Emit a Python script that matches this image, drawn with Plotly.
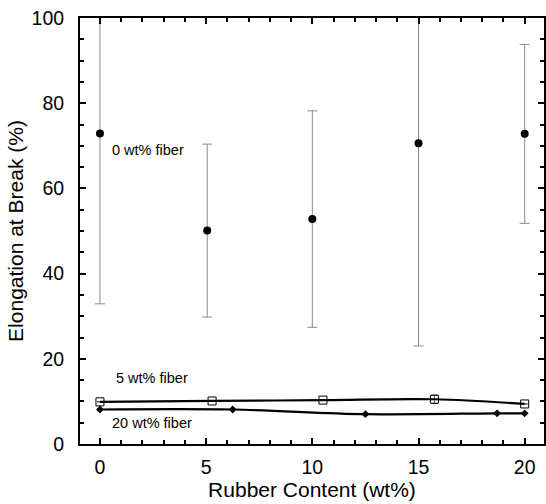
import plotly.graph_objects as go

# 0 wt% fiber
x0 = [0, 5.05, 10.0, 15.0, 20.0]
y0 = [72.9, 50.1, 52.8, 70.6, 72.8]
e0 = [40.0, 20.3, 25.4, 47.6, 21.0]

# 5 wt% fiber
x5 = [0, 5.28, 10.5, 15.75, 20.0]
y5 = [9.9, 10.1, 10.3, 10.5, 9.4]
e5 = [0, 0, 0, 1.0, 0]

# 20 wt% fiber
x20 = [0, 6.25, 12.5, 18.7, 20.0]
y20 = [8.1, 8.1, 7.0, 7.2, 7.2]

labels = ["0 wt% fiber", "5 wt% fiber", "20 wt% fiber"]
label_x = [2.25, 2.45, 2.45]
label_y = [69, 15.5, 4.9]

FONT = "Liberation Sans, Arial, sans-serif"

fig = go.Figure()
fig.add_trace(go.Scatter(
    x=x0, y=y0, mode="markers",
    marker=dict(symbol="circle", size=8, color="black"),
    error_y=dict(type="data", array=e0, visible=True, color="#8a8a8a", thickness=1, width=5),
    showlegend=False))
fig.add_trace(go.Scatter(
    x=x5, y=y5, mode="lines+markers",
    line=dict(color="black", width=2.2, shape="spline", smoothing=1),
    marker=dict(symbol="square-open", size=8, color="black", line=dict(width=1)),
    error_y=dict(type="data", array=e5, visible=True, color="#555555", thickness=1, width=3),
    showlegend=False))
fig.add_trace(go.Scatter(
    x=x20, y=y20, mode="lines+markers",
    line=dict(color="black", width=2.2, shape="spline", smoothing=1),
    marker=dict(symbol="diamond", size=6, color="black"),
    showlegend=False))

for t, lx, ly in zip(labels, label_x, label_y):
    fig.add_annotation(x=lx, y=ly, text=t, showarrow=False,
                       font=dict(family=FONT, size=14.5, color="black"))

axis_common = dict(
    showgrid=False, zeroline=False, showline=True, linecolor="black", linewidth=2,
    mirror="ticks", ticks="inside", ticklen=6, tickwidth=1.5, tickcolor="black",
    tickfont=dict(family=FONT, size=19.5, color="black"),
)
fig.update_xaxes(range=[-0.94, 20.91], tickvals=[0, 5, 10, 15, 20],
                 ticklabelstandoff=5,
                 minor=dict(dtick=1, tick0=0, ticks="inside", ticklen=4, tickcolor="black", tickwidth=1.5),
                 title=dict(text="Rubber Content (wt%)", font=dict(family=FONT, size=21, color="black"), standoff=4),
                 **axis_common)
fig.update_yaxes(range=[0, 100], tickvals=[0, 20, 40, 60, 80, 100],
                 ticklabelstandoff=10,
                 minor=dict(dtick=5, tick0=0, ticks="inside", ticklen=4, tickcolor="black", tickwidth=1.5),
                 title=dict(text="Elongation at Break (%)", font=dict(family=FONT, size=21, color="black"), standoff=2),
                 **axis_common)
fig.update_layout(
    width=546, height=504,
    margin=dict(l=80, r=0, t=18, b=60),
    plot_bgcolor="white", paper_bgcolor="white",
)
fig.write_html("out.html")
